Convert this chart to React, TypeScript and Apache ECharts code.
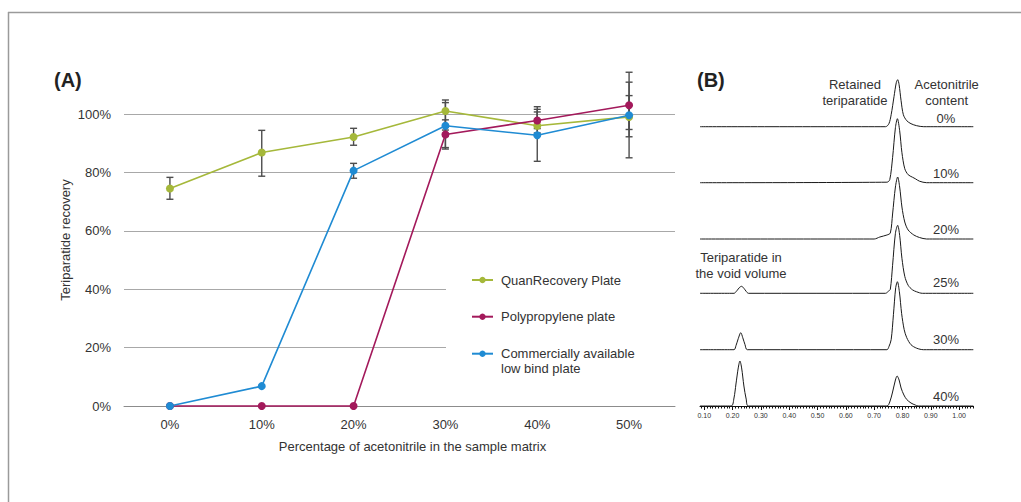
import React, { useEffect, useRef } from "react";
import * as echarts from "echarts";

// ---------- Panel A: recovery vs. acetonitrile content ----------
const acnLevels = ["0%", "10%", "20%", "30%", "40%", "50%"];
const seriesNames = ["QuanRecovery Plate", "Polypropylene plate", "Commercially available\nlow bind plate"];
const quanRecovery = [74.5, 86.8, 92.1, 101, 96, 99];
const polypropylene = [0, 0, 0, 93, 97.8, 103];
const lowBind = [0, 6.8, 80.6, 96, 92.7, 99.6];

// error ranges [low, high]; null = no bar
const quanErr: ([number, number] | null)[] = [[70.8, 78.3], [78.7, 94.4], [89.3, 95.1], [94.5, 104.8], [93.5, 100.7], [94.7, 106.3]];
const polyErr: ([number, number] | null)[] = [null, null, null, [88, 98], [95, 102.5], [92.2, 114.3]];
const lowBindErr: ([number, number] | null)[] = [null, null, [78, 83.1], [88.5, 103.9], [83.8, 101.6], [85, 110.9]];

// ---------- Panel B: chromatograms (time in min, signal) ----------
const traceLabels = ["0%", "10%", "20%", "25%", "30%", "40%"];
const trace0 = [[0.085, 0], [0.74, 0], [0.752, 3], [0.76, 12], [0.77, 30], [0.778, 44], [0.783, 47], [0.788, 42], [0.795, 26], [0.803, 12], [0.815, 6], [0.83, 3], [0.85, 1], [0.875, 0], [1.05, 0]];
const trace10 = [[0.085, 0], [0.745, 0.5], [0.755, 3], [0.765, 25], [0.775, 55], [0.782, 64], [0.79, 52], [0.798, 30], [0.808, 14], [0.82, 8], [0.835, 5.5], [0.845, 4], [0.86, 1.5], [0.885, 0], [1.05, 0]];
const trace20 = [[0.085, 0], [0.7, 0], [0.72, 2], [0.745, 4], [0.757, 6], [0.765, 25], [0.775, 52], [0.783, 62], [0.79, 52], [0.798, 32], [0.808, 17], [0.82, 9], [0.84, 4], [0.86, 1.5], [0.885, 0], [1.05, 0]];
const trace25 = [[0.085, 0], [0.205, 0], [0.215, 2.5], [0.225, 6], [0.232, 7], [0.24, 5], [0.248, 2], [0.256, 0], [0.74, 0], [0.75, 2], [0.757, 4], [0.765, 28], [0.775, 60], [0.783, 68], [0.79, 58], [0.798, 35], [0.808, 17], [0.82, 8], [0.835, 3.5], [0.85, 1.5], [0.87, 0], [1.05, 0]];
const trace30 = [[0.085, 0], [0.205, 0], [0.212, 4], [0.22, 11], [0.229, 17], [0.236, 12], [0.244, 5], [0.252, 0], [0.745, 0], [0.752, 3], [0.76, 10], [0.768, 35], [0.776, 62], [0.782, 68], [0.789, 58], [0.797, 36], [0.806, 20], [0.815, 12], [0.83, 5], [0.85, 1.5], [0.874, 0], [1.05, 0]];
const trace40 = [[0.085, 0], [0.195, 0], [0.205, 8], [0.212, 22], [0.22, 38], [0.226, 45], [0.232, 38], [0.24, 20], [0.248, 7], [0.256, 0], [0.745, 0], [0.755, 4], [0.765, 14], [0.775, 26], [0.781, 30], [0.788, 26], [0.795, 18], [0.805, 11], [0.815, 6.5], [0.83, 3], [0.845, 1], [0.855, 0], [1.05, 0]];
const traces = [trace0, trace10, trace20, trace25, trace30, trace40];
const timeLabels = [0.1, 0.2, 0.3, 0.4, 0.5, 0.6, 0.7, 0.8, 0.9, 1.0];

const GREEN = "#a5b83a";
const MAGENTA = "#a3195b";
const BLUE = "#1f8bd3";
const TEXT = "#333333";
const FONT = "'Liberation Sans', Arial, Helvetica, sans-serif";

const baselines = [126.7, 182.7, 239, 293.3, 349.7, 406];
const labelY = [118.3, 173.3, 229.3, 282.3, 339.3, 396.7];

function errorSeries(name: string, ranges: ([number, number] | null)[]) {
  const data: number[][] = [];
  ranges.forEach((r, i) => {
    if (r) data.push([i, r[0], r[1]]);
  });
  return {
    type: "custom",
    name,
    xAxisIndex: 0,
    yAxisIndex: 0,
    z: 1,
    silent: true,
    clip: false,
    encode: { x: 0, y: [1, 2] },
    data,
    renderItem: (_p: any, api: any) => {
      const x = api.value(0);
      const lo = api.coord([x, api.value(1)]);
      const hi = api.coord([x, api.value(2)]);
      const w = 3.5;
      const st = { stroke: "#4d4d4d", lineWidth: 1.4 };
      return {
        type: "group",
        children: [
          { type: "line", shape: { x1: lo[0], y1: lo[1], x2: hi[0], y2: hi[1] }, style: st },
          { type: "line", shape: { x1: lo[0] - w, y1: lo[1], x2: lo[0] + w, y2: lo[1] }, style: st },
          { type: "line", shape: { x1: hi[0] - w, y1: hi[1], x2: hi[0] + w, y2: hi[1] }, style: st },
        ],
      };
    },
  };
}

function lineSeries(name: string, data: number[], color: string) {
  return {
    type: "line",
    name,
    data,
    xAxisIndex: 0,
    yAxisIndex: 0,
    z: 3,
    clip: false,
    symbol: "circle",
    symbolSize: 8,
    itemStyle: { color },
    lineStyle: { color, width: 1.6 },
  };
}

export default function App() {
  const ref = useRef<HTMLDivElement>(null);

  useEffect(() => {
    if (!ref.current) return;
    const chart = echarts.init(ref.current, undefined, { renderer: "svg" });

    const H = 80;
    const grids: any[] = [
      { left: 124, right: 346, top: 114, bottom: 96 },
      ...baselines.map((b) => ({ left: 700, right: 47.7, top: b - H, height: H })),
    ];

    const xAxes: any[] = [
      {
        type: "category",
        gridIndex: 0,
        data: acnLevels,
        axisLine: { lineStyle: { color: "#8c8c8c", width: 1 } },
        axisTick: { show: false },
        axisLabel: { color: TEXT, fontSize: 13, fontFamily: FONT, margin: 12 },
        name: "Percentage of acetonitrile in the sample matrix",
        nameLocation: "middle",
        nameGap: 34,
        nameTextStyle: { color: TEXT, fontSize: 13, fontFamily: FONT, padding: [0, 0, 0, 26] },
      },
      ...baselines.map((_, i) => {
        const last = i === baselines.length - 1;
        return {
          type: "value",
          gridIndex: i + 1,
          min: 0.085,
          max: 1.05,
          splitLine: { show: false },
          axisLine: { show: last, lineStyle: { color: "#111", width: 1 } },
          axisTick: last
            ? { show: true, customValues: timeLabels, length: 4, lineStyle: { color: "#111" } }
            : { show: false },
          axisLabel: last
            ? {
                show: true,
                customValues: timeLabels,
                formatter: (v: number) => v.toFixed(2),
                fontSize: 7,
                color: TEXT,
                fontFamily: FONT,
                margin: 6,
              }
            : { show: false },
        };
      }),
    ];
    // minor ticks every 0.01 on the time axis
    const minorTicks: number[] = [];
    for (let k = 9; k <= 105; k++) minorTicks.push(k / 100);
    xAxes.push({
      type: "value",
      gridIndex: baselines.length,
      min: 0.085,
      max: 1.05,
      position: "bottom",
      splitLine: { show: false },
      axisLine: { show: false },
      axisLabel: { show: false },
      axisTick: { show: true, customValues: minorTicks, length: 2.5, lineStyle: { color: "#111" } },
    });

    const yAxes: any[] = [
      {
        type: "value",
        gridIndex: 0,
        min: 0,
        max: 100,
        interval: 20,
        axisLine: { show: false },
        axisTick: { show: false },
        axisLabel: { formatter: "{value}%", color: TEXT, fontSize: 13, fontFamily: FONT, margin: 13 },
        splitLine: { lineStyle: { color: "#a8a8a8", width: 1 } },
      },
      ...baselines.map((_, i) => ({
        type: "value",
        gridIndex: i + 1,
        min: 0,
        max: H,
        show: false,
      })),
    ];

    const chromSeries = traces.map((t, i) => ({
      type: "line",
      name: "trace " + traceLabels[i],
      data: t,
      xAxisIndex: i + 1,
      yAxisIndex: i + 1,
      showSymbol: false,
      symbol: "none",
      smooth: 0.3,
      clip: false,
      lineStyle: { color: "#1a1a1a", width: 1 },
      z: 3,
    }));

    const legendText = { color: TEXT, fontSize: 13, fontFamily: FONT, lineHeight: 15, padding: [0, 0, 0, 3] };
    const legendBase = {
      orient: "vertical",
      left: 471,
      padding: 0,
      itemWidth: 21,
      itemHeight: 8,
      selectedMode: false,
      textStyle: legendText,
    };

    const txt = (text: string, x: number, y: number, extra: any = {}) => ({
      type: "text",
      x,
      y,
      z: 10,
      style: {
        text,
        fill: TEXT,
        font: `13px ${FONT}`,
        align: "center",
        verticalAlign: "middle",
        lineHeight: 16.7,
        ...extra,
      },
    });

    chart.setOption({
      animation: false,
      backgroundColor: "#ffffff",
      textStyle: { fontFamily: FONT },
      grid: grids,
      xAxis: xAxes,
      yAxis: yAxes,
      legend: [
        { ...legendBase, top: 272.5, data: [seriesNames[0]] },
        { ...legendBase, top: 309.2, data: [seriesNames[1]] },
        {
          ...legendBase,
          top: 331.2,
          data: [seriesNames[2]],
          // first line sits level with the marker, second line hangs below it
          formatter: (name: string) => {
            const [a, b] = name.split("\n");
            return `{gap| }\n{t|${a}}\n{t|${b}}`;
          },
          textStyle: {
            ...legendText,
            rich: {
              gap: { lineHeight: 15, fontSize: 13, fontFamily: FONT },
              t: { lineHeight: 15, fontSize: 13, fontFamily: FONT, color: TEXT },
            },
          },
        },
      ],
      series: [
        errorSeries("QuanRecovery error", quanErr),
        errorSeries("Polypropylene error", polyErr),
        errorSeries("Low bind error", lowBindErr),
        lineSeries(seriesNames[0], quanRecovery, GREEN),
        lineSeries(seriesNames[1], polypropylene, MAGENTA),
        lineSeries(seriesNames[2], lowBind, BLUE),
        ...chromSeries,
      ],
      graphic: [
        // frame
        { type: "line", z: 10, shape: { x1: 8, y1: 12.5, x2: 1021, y2: 12.5 }, style: { stroke: "#9a9a9a", lineWidth: 1.5 } },
        { type: "line", z: 10, shape: { x1: 8.5, y1: 12, x2: 8.5, y2: 502 }, style: { stroke: "#9a9a9a", lineWidth: 1.5 } },
        // white box behind the legend
        { type: "rect", z: 1, shape: { x: 446, y: 262, width: 230, height: 118 }, style: { fill: "#ffffff" } },
        // panel tags
        { type: "text", x: 54, y: 80, z: 10, style: { text: "(A)", fill: "#222", font: `bold 20px ${FONT}`, verticalAlign: "middle" } },
        { type: "text", x: 697, y: 80, z: 10, style: { text: "(B)", fill: "#222", font: `bold 20px ${FONT}`, verticalAlign: "middle" } },
        // y-axis title
        {
          type: "text",
          x: 65,
          y: 240,
          rotation: Math.PI / 2,
          z: 10,
          style: { text: "Teriparatide recovery", fill: TEXT, font: `13px ${FONT}`, align: "center", verticalAlign: "middle" },
        },
        // panel B annotations
        txt("Retained\nteriparatide", 855, 92.4),
        txt("Acetonitrile\ncontent", 946.7, 92.4),
        txt("Teriparatide in\nthe void volume", 741, 265.6),
        ...traceLabels.map((l, i) => txt(l, 946, labelY[i])),
      ],
    });

    return () => chart.dispose();
  }, []);

  return (
    <div
      ref={ref}
      style={{ position: "absolute", left: 0, top: 0, width: 1021, height: 502, background: "#fff" }}
    />
  );
}
